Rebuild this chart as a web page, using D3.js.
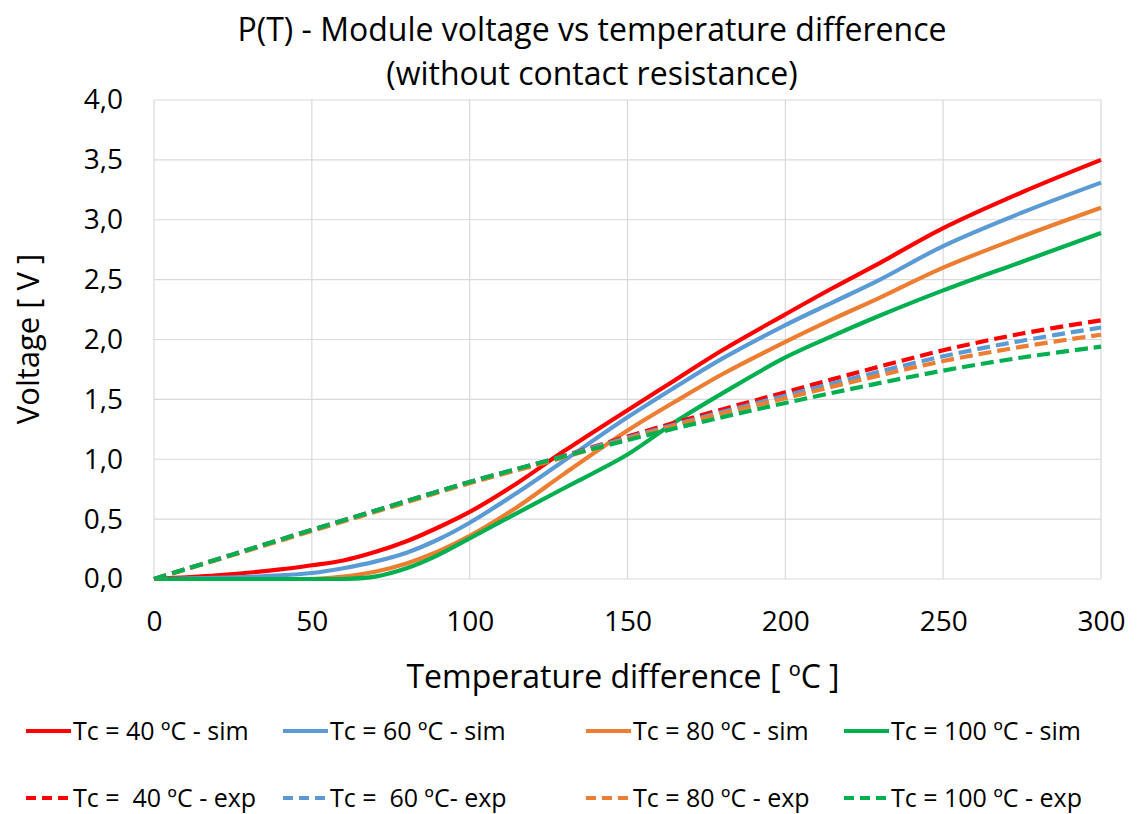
<!DOCTYPE html>
<html>
<head>
<meta charset="utf-8">
<script src="https://cdn.jsdelivr.net/npm/d3@7"></script>
<style>
  html, body { margin: 0; padding: 0; background: #fff; }
  svg { display: block; font-family: "Open Sans", "Noto Sans", sans-serif; }
</style>
</head>
<body>
<svg id="chart" width="1137" height="814"></svg>
<script>
// Temperature difference sample points (°C)
const simT = [0, 20, 40, 50, 60, 70, 80, 90, 100, 115, 130, 150, 165, 180, 200, 215, 230, 250, 275, 300];
const expT = [0, 25, 50, 75, 100, 125, 150, 175, 200, 225, 250, 275, 300];

// Simulated module voltage (V) per cold-side temperature
const sim40  = [0, 0.03, 0.08, 0.115, 0.155, 0.225, 0.315, 0.43, 0.56, 0.80, 1.07, 1.41, 1.66, 1.91, 2.21, 2.43, 2.64, 2.93, 3.23, 3.50];
const sim60  = [0, 0.01, 0.03, 0.05, 0.09, 0.145, 0.22, 0.33, 0.47, 0.72, 0.99, 1.35, 1.60, 1.84, 2.12, 2.31, 2.50, 2.78, 3.06, 3.31];
const sim80  = [0, 0, 0, 0, 0.02, 0.06, 0.13, 0.23, 0.36, 0.60, 0.88, 1.24, 1.48, 1.71, 1.98, 2.17, 2.35, 2.60, 2.86, 3.10];
const sim100 = [0, 0, 0, 0, 0, 0.02, 0.09, 0.20, 0.34, 0.55, 0.76, 1.04, 1.31, 1.55, 1.85, 2.03, 2.20, 2.41, 2.65, 2.89];

// Experimental module voltage (V)
const exp40  = [0, 0.205, 0.41, 0.61, 0.81, 0.99, 1.19, 1.38, 1.56, 1.74, 1.91, 2.05, 2.16];
const exp60  = [0, 0.205, 0.41, 0.61, 0.81, 0.99, 1.18, 1.36, 1.53, 1.70, 1.86, 1.99, 2.10];
const exp80  = [0, 0.20, 0.40, 0.60, 0.80, 0.98, 1.17, 1.35, 1.51, 1.67, 1.82, 1.94, 2.04];
const exp100 = [0, 0.205, 0.41, 0.61, 0.81, 0.99, 1.16, 1.32, 1.47, 1.61, 1.74, 1.85, 1.94];

const xTicks = [0, 50, 100, 150, 200, 250, 300];
const yTicks = [0, 0.5, 1.0, 1.5, 2.0, 2.5, 3.0, 3.5, 4.0];

const seriesNames = [
  "Tc = 40 ºC - sim", "Tc = 60 ºC - sim", "Tc = 80 ºC - sim", "Tc = 100 ºC - sim",
  "Tc =  40 ºC - exp", "Tc =  60 ºC- exp", "Tc = 80 ºC - exp", "Tc = 100 ºC - exp"
];
const colors = ["#FF0000", "#5B9BD5", "#ED7D31", "#00B050"];

const series = [
  { name: seriesNames[0], t: simT, v: sim40,  color: colors[0], dashed: false },
  { name: seriesNames[1], t: simT, v: sim60,  color: colors[1], dashed: false },
  { name: seriesNames[2], t: simT, v: sim80,  color: colors[2], dashed: false },
  { name: seriesNames[3], t: simT, v: sim100, color: colors[3], dashed: false },
  { name: seriesNames[4], t: expT, v: exp40,  color: colors[0], dashed: true },
  { name: seriesNames[5], t: expT, v: exp60,  color: colors[1], dashed: true },
  { name: seriesNames[6], t: expT, v: exp80,  color: colors[2], dashed: true },
  { name: seriesNames[7], t: expT, v: exp100, color: colors[3], dashed: true }
];

const svg = d3.select("#chart");
const plot = { left: 154, right: 1101, top: 100, bottom: 579 };

const x = d3.scaleLinear().domain([0, 300]).range([plot.left, plot.right]);
const y = d3.scaleLinear().domain([0, 4]).range([plot.bottom, plot.top]);
const fmt = d => d3.format(".1f")(d).replace(".", ",");

// Gridlines
const grid = svg.append("g").attr("stroke", "#D9D9D9").attr("stroke-width", 1.2);
grid.selectAll(".gy").data(yTicks).join("line")
  .attr("x1", plot.left).attr("x2", plot.right)
  .attr("y1", d => y(d)).attr("y2", d => y(d));
grid.selectAll(".gx").data(xTicks).join("line")
  .attr("y1", plot.top).attr("y2", plot.bottom)
  .attr("x1", d => x(d)).attr("x2", d => x(d));

// Axes (labels only; the gridlines frame the plot)
const xAxis = svg.append("g")
  .attr("transform", `translate(0,${plot.bottom})`)
  .call(d3.axisBottom(x).tickValues(xTicks).tickSize(0).tickFormat(d3.format("d")));
const yAxis = svg.append("g")
  .attr("transform", `translate(${plot.left},0)`)
  .call(d3.axisLeft(y).tickValues(yTicks).tickSize(0).tickPadding(31).tickFormat(fmt));
[xAxis, yAxis].forEach(a => {
  a.select(".domain").remove();
  a.selectAll("text").attr("font-size", 28).attr("fill", "#000").attr("font-family", "'Open Sans', sans-serif");
});
xAxis.selectAll("text").attr("y", 42).attr("dy", "0.35em");

// Clip the curves so smoothing cannot dip below the axis
svg.append("clipPath").attr("id", "plotClip").append("rect")
  .attr("x", plot.left - 4).attr("y", plot.top - 4)
  .attr("width", plot.right - plot.left + 8).attr("height", plot.bottom - plot.top + 6);

const line = d3.line()
  .x(d => x(d[0]))
  .y(d => y(d[1]))
  .curve(d3.curveCatmullRom.alpha(0.5));

svg.append("g").attr("clip-path", "url(#plotClip)")
  .selectAll("path").data(series).join("path")
  .attr("d", s => line(s.t.map((t, i) => [t, s.v[i]])))
  .attr("fill", "none")
  .attr("stroke", s => s.color)
  .attr("stroke-width", 4.2)
  .attr("stroke-dasharray", s => s.dashed ? "13,6" : null)
  .attr("stroke-linejoin", "round");

// Titles
const title = svg.append("g").attr("text-anchor", "middle").attr("font-size", 32).attr("fill", "#000");
title.append("text").attr("x", 592).attr("y", 41).text("P(T) - Module voltage vs temperature difference");
title.append("text").attr("x", 592).attr("y", 85).text("(without contact resistance)");

svg.append("text").attr("x", 623).attr("y", 688).attr("text-anchor", "middle")
  .attr("font-size", 32).text("Temperature difference [ ºC ]");
svg.append("text").attr("transform", "translate(39,339) rotate(-90)").attr("text-anchor", "middle")
  .attr("font-size", 31).text("Voltage [ V ]");

// Legend: two rows of four
const legendX = [26, 283, 586, 844];
const legendY = [731, 798];
const legend = svg.append("g");
series.forEach((s, i) => {
  const gx = legendX[i % 4], gy = legendY[Math.floor(i / 4)];
  legend.append("line")
    .attr("x1", gx).attr("x2", gx + 45).attr("y1", gy).attr("y2", gy)
    .attr("stroke", s.color).attr("stroke-width", 4)
    .attr("stroke-dasharray", s.dashed ? "10,6" : null);
  legend.append("text")
    .attr("x", gx + 47).attr("y", gy).attr("dy", "0.35em")
    .attr("font-size", 25).attr("fill", "#000")
    .style("white-space", "pre")
    .text(s.name);
});
</script>
</body>
</html>
